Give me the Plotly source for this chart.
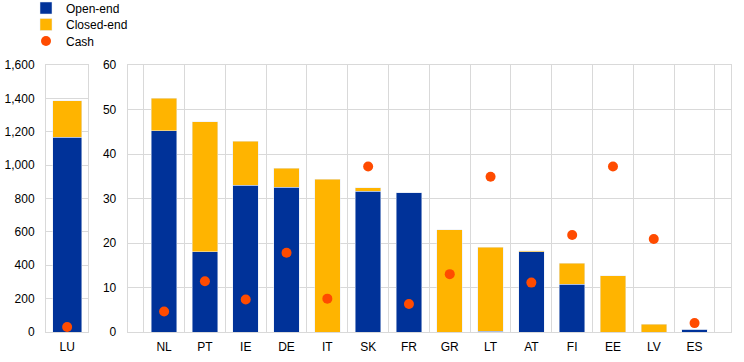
import plotly.graph_objects as go

lu_cat = ["LU"]
lu_open = [1168]
lu_closed = [218]
lu_cash = [30]

countries = ["NL", "PT", "IE", "DE", "IT", "SK", "FR", "GR", "LT", "AT", "FI", "EE", "LV", "ES"]
open_end = [45.2, 18.0, 33.0, 32.5, 0, 31.6, 31.3, 0, 0.2, 18.0, 10.7, 0, 0, 0.6]
closed_end = [7.3, 29.3, 9.9, 4.3, 34.3, 0.8, 0, 23.0, 18.8, 0.3, 4.7, 12.6, 1.7, 0]
cash = [4.6, 11.4, 7.3, 17.8, 7.5, 37.2, 6.3, 13.0, 34.9, 11.1, 21.8, 37.2, 20.9, 2.0]

BLUE = "#003299"
YELLOW = "#FFB400"
RED = "#FF4B00"
GRID = "#D9D9D9"
FONT = dict(family="Liberation Sans, Arial, sans-serif", size=12, color="#000000")

fig = go.Figure()
fig.add_trace(go.Bar(x=lu_cat, y=lu_open, name="Open-end", marker_color=BLUE,
                     width=0.68, xaxis="x", yaxis="y", legend="legend", legendgroup="o"))
fig.add_trace(go.Bar(x=lu_cat, y=lu_closed, name="Closed-end", marker_color=YELLOW,
                     width=0.68, xaxis="x", yaxis="y", legend="legend2", legendgroup="c"))
fig.add_trace(go.Scatter(x=lu_cat, y=lu_cash, name="Cash", mode="markers",
                         marker=dict(color=RED, size=10), xaxis="x", yaxis="y",
                         legend="legend3", legendgroup="k"))

fig.add_trace(go.Bar(x=countries, y=open_end, name="Open-end", marker_color=BLUE,
                     width=0.625, xaxis="x2", yaxis="y2", showlegend=False, legendgroup="o"))
fig.add_trace(go.Bar(x=countries, y=closed_end, name="Closed-end", marker_color=YELLOW,
                     width=0.625, xaxis="x2", yaxis="y2", showlegend=False, legendgroup="c"))
fig.add_trace(go.Scatter(x=countries, y=cash, name="Cash", mode="markers",
                         marker=dict(color=RED, size=10), xaxis="x2", yaxis="y2",
                         showlegend=False, legendgroup="k"))

axis_common = dict(showgrid=True, gridcolor=GRID, gridwidth=1, showline=True, linecolor=GRID,
                   linewidth=1, mirror=True, zeroline=False, ticks="", tickfont=FONT)

L, R, T, B = 46, 13, 65, 30
PW = 744 - L - R
PH = 362 - T - B


def leg(sy):
    return dict(x=(26 - L) / PW, y=1 + (T - sy) / PH, xanchor="left", yanchor="middle",
                font=FONT, bgcolor="rgba(0,0,0,0)", itemclick=False, borderwidth=0)


fig.update_layout(
    width=744, height=362,
    margin=dict(l=L, r=R, t=T, b=B, autoexpand=False),
    paper_bgcolor="white", plot_bgcolor="white",
    barmode="stack",
    font=FONT,
    showlegend=True,
    legend=leg(8),
    legend2=leg(24.5),
    legend3=leg(41),
    xaxis=dict(domain=[0, 42.3 / PW], type="category", tickson="boundaries", anchor="y",
               ticklabelstandoff=4, **axis_common),
    yaxis=dict(range=[0, 1600], dtick=200, tickformat=",", anchor="x", ticklabelstandoff=8, **axis_common),
    xaxis2=dict(domain=[(127.7 - L) / PW, 1], type="category", tickson="boundaries", anchor="y2",
                ticklabelstandoff=4, **axis_common),
    yaxis2=dict(range=[0, 60], dtick=10, anchor="x2", ticklabelstandoff=8, **axis_common),
)

fig.write_html("out.html", post_script="document.body.style.margin='0';",
               config={"displayModeBar": False})
